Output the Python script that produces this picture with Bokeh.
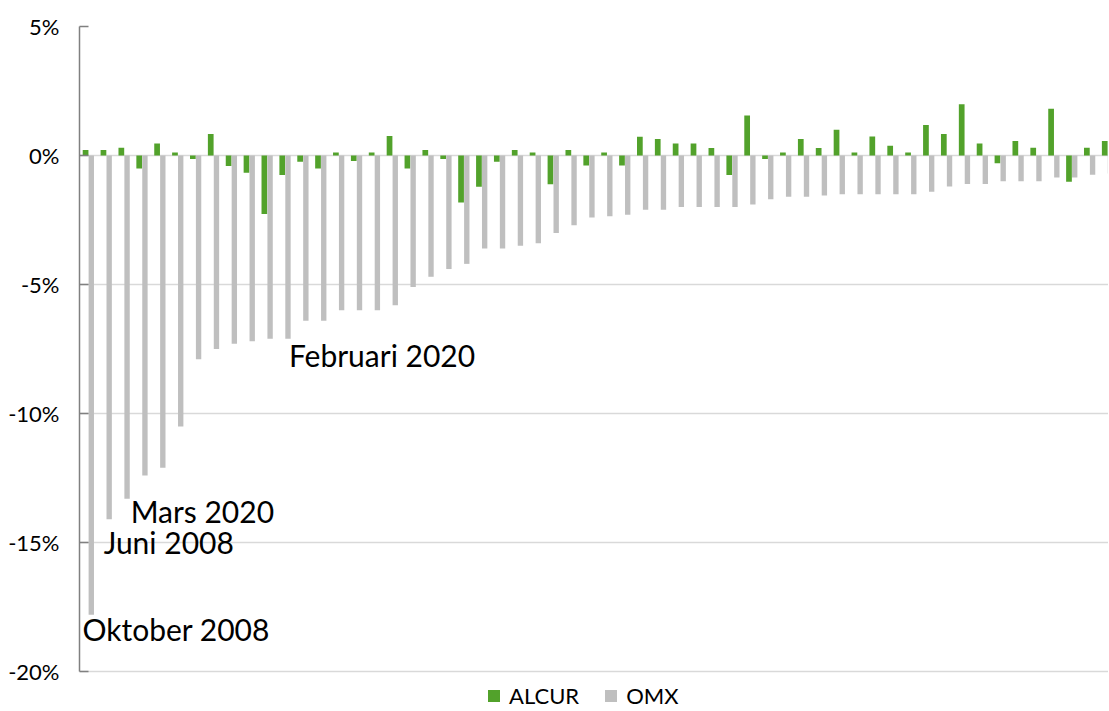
from bokeh.plotting import figure
from bokeh.models import ColumnDataSource, Range1d, FixedTicker, PrintfTickFormatter, Label, Legend, LegendItem
from bokeh.transform import dodge
from bokeh.embed import file_html
from bokeh.resources import INLINE

# ---- data (percent) ----
alcur = [0.21, 0.21, 0.30, -0.50, 0.47, 0.12, -0.14, 0.83, -0.41, -0.67,
         -2.27, -0.76, -0.24, -0.50, 0.12, -0.21, 0.12, 0.76, -0.50, 0.21,
         -0.14, -1.82, -1.21, -0.24, 0.21, 0.12, -1.11, 0.21, -0.39, 0.12,
         -0.39, 0.73, 0.64, 0.47, 0.47, 0.29, -0.76, 1.55, -0.14, 0.12,
         0.64, 0.29, 1.00, 0.12, 0.74, 0.38, 0.12, 1.18, 0.83, 1.99,
         0.47, -0.30, 0.56, 0.30, 1.81, -1.02, 0.30, 0.56]
omx = [-17.8, -14.1, -13.3, -12.4, -12.1, -10.5, -7.9, -7.5, -7.3, -7.2,
       -7.1, -7.1, -6.4, -6.4, -6.0, -6.0, -6.0, -5.8, -5.1, -4.7,
       -4.4, -4.2, -3.6, -3.6, -3.5, -3.4, -3.0, -2.7, -2.4, -2.35,
       -2.3, -2.1, -2.1, -2.0, -2.0, -2.0, -2.0, -1.9, -1.7, -1.6,
       -1.6, -1.55, -1.5, -1.5, -1.5, -1.5, -1.5, -1.4, -1.2, -1.1,
       -1.1, -1.0, -1.0, -1.0, -0.85, -0.85, -0.75, -0.7]
series_names = ["ALCUR", "OMX"]
y_ticks = [-20, -15, -10, -5, 0, 5]

# annotation texts with their anchor (category index, value)
ann_text = ["Oktober 2008", "Juni 2008", "Mars 2020", "Februari 2020"]
ann_x = [-0.33, 0.85, 2.36, 11.21]
ann_y = [-18.34, -14.97, -13.76, -7.74]

GREEN = "#52a22b"
GREY = "#bfbfbf"
FONT = "Lato"

idx = list(range(len(alcur)))
src = ColumnDataSource(dict(idx=idx, alcur=alcur, omx=omx))

p = figure(width=1108, height=710, output_backend="svg", toolbar_location=None,
           x_range=Range1d(-0.5, 57.05), y_range=Range1d(-21.51, 5),
           x_axis_location=None, min_border_left=79, min_border_right=0,
           min_border_top=26, min_border_bottom=0)
p.outline_line_color = None
p.xgrid.grid_line_color = None
p.ygrid.grid_line_color = "#d9d9d9"
p.ygrid.grid_line_width = 1.5
p.ygrid.ticker = FixedTicker(ticks=y_ticks)

p.vbar(x=dodge("idx", -0.16, range=p.x_range), top="alcur", bottom=0, width=0.32,
       source=src, color=GREEN, line_color=None)
p.vbar(x=dodge("idx", 0.16, range=p.x_range), top="omx", bottom=0, width=0.30,
       source=src, color=GREY, line_color=None)

# hidden proxies, used only to draw square legend swatches
sw_green = p.quad(left="idx", right="idx", top="alcur", bottom=0, source=src,
                  color=GREEN, line_color=None, visible=False)
sw_grey = p.quad(left="idx", right="idx", top="omx", bottom=0, source=src,
                 color=GREY, line_color=None, visible=False)

ax = p.yaxis[0]
ax.ticker = FixedTicker(ticks=y_ticks)
ax.bounds = (-20, 5)
ax.formatter = PrintfTickFormatter(format="%d%%")
ax.axis_line_color = "#808080"
ax.axis_line_width = 1.5
ax.major_tick_line_color = "#808080"
ax.major_tick_line_width = 1.5
ax.major_tick_in = 9
ax.major_tick_out = 0
ax.minor_tick_line_color = None
ax.major_label_standoff = 20
ax.major_label_text_font = FONT
ax.major_label_text_font_size = "22px"
ax.major_label_text_color = "#000000"

for t, x, y in zip(ann_text, ann_x, ann_y):
    p.add_layout(Label(x=x, y=y, text=t, text_font=FONT, text_font_size="30px",
                       text_color="#000000", text_baseline="middle", text_align="left"))

lg = Legend(items=[LegendItem(label=series_names[0], renderers=[sw_green]),
                   LegendItem(label=series_names[1], renderers=[sw_grey])])
lg.orientation = "horizontal"
lg.location = (407, 1)
lg.background_fill_alpha = 0
lg.border_line_color = None
lg.inactive_fill_alpha = 0
lg.padding = 0
lg.margin = 0
lg.spacing = 24
lg.label_standoff = 8
lg.glyph_width = 15
lg.glyph_height = 15
lg.label_text_font = FONT
lg.label_text_font_size = "22px"
lg.label_text_color = "#000000"
p.add_layout(lg, "center")

open("out.html", "w").write(file_html(p, INLINE))
